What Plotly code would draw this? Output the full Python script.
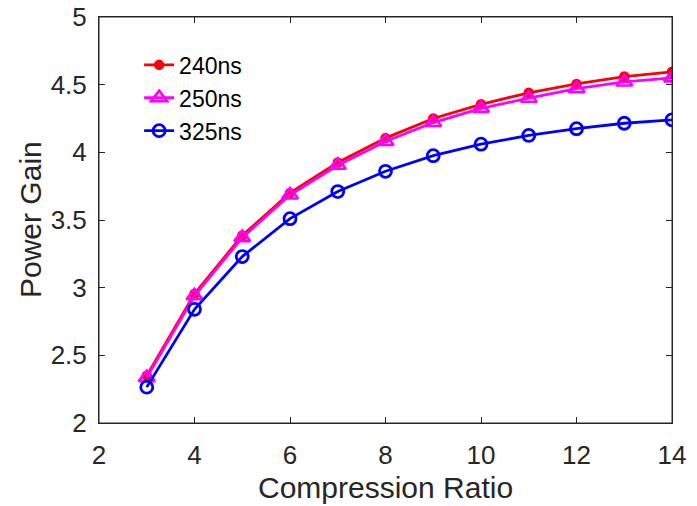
import plotly.graph_objects as go

compression_ratio = [3, 4, 5, 6, 7, 8, 9, 10, 11, 12, 13, 14]
gain_240ns = [2.35, 2.955, 3.385, 3.70, 3.925, 4.105, 4.25, 4.355, 4.44, 4.505, 4.56, 4.595]
gain_250ns = [2.335, 2.94, 3.37, 3.685, 3.905, 4.08, 4.22, 4.325, 4.40, 4.47, 4.52, 4.55]
gain_325ns = [2.265, 2.84, 3.23, 3.51, 3.71, 3.86, 3.975, 4.06, 4.125, 4.175, 4.215, 4.24]
x_ticks = [2, 4, 6, 8, 10, 12, 14]
y_ticks = [2, 2.5, 3, 3.5, 4, 4.5, 5]
y_tick_labels = ["2", "2.5", "3", "3.5", "4", "4.5", "5"]
x_title = "Compression Ratio"
y_title = "Power Gain"

FONT = "Liberation Sans, Arial, Helvetica, sans-serif"
AX = "#262626"

fig = go.Figure()
fig.add_trace(go.Scatter(
    x=compression_ratio, y=gain_240ns, name="240ns", mode="lines+markers",
    line=dict(color="#ff0000", width=2.8),
    marker=dict(symbol="circle", size=9, color="#ff0000",
                line=dict(color="#ff0000", width=1.5))))
fig.add_trace(go.Scatter(
    x=compression_ratio, y=gain_250ns, name="250ns", mode="lines+markers",
    line=dict(color="#ff00ff", width=2.8),
    marker=dict(symbol="triangle-up-open", size=14, color="#ff00ff",
                line=dict(color="#ff00ff", width=2.6))))
fig.add_trace(go.Scatter(
    x=compression_ratio, y=gain_325ns, name="325ns", mode="lines+markers",
    line=dict(color="#0000ff", width=2.8),
    marker=dict(symbol="circle-open", size=12, color="#0000ff",
                line=dict(color="#0000ff", width=2.8))))

axis_common = dict(
    showgrid=False, zeroline=False, showline=True, linecolor=AX,
    linewidth=1, mirror="ticks", ticks="inside", ticklen=6, tickwidth=1,
    tickcolor=AX, tickfont=dict(size=26, color=AX, family=FONT),
    automargin=False, ticklabeloverflow="allow",
)
fig.update_xaxes(range=[2, 14], tickvals=x_ticks, ticklabelstandoff=9,
                 **axis_common)
fig.update_yaxes(range=[2, 5], tickvals=y_ticks, ticktext=y_tick_labels,
                 ticklabelstandoff=6, **axis_common)

# plot frame
fig.add_shape(type="rect", xref="paper", yref="paper", x0=0, y0=0, x1=1, y1=1,
              line=dict(color=AX, width=1), layer="above")

fig.add_annotation(text=x_title, xref="paper", yref="paper", x=0.5, y=0,
                   yshift=-46, xanchor="center", yanchor="top",
                   showarrow=False, font=dict(size=30, color=AX, family=FONT))
fig.add_annotation(text=y_title, xref="paper", yref="paper", x=0, y=0.5,
                   xshift=-69, xanchor="center", yanchor="middle", textangle=-90,
                   showarrow=False, font=dict(size=30, color=AX, family=FONT))

# page body has an 8px margin, so the figure is shifted by (8, 8)
fig.update_layout(
    width=689, height=498,
    margin=dict(l=91, r=25, t=9, b=83),
    paper_bgcolor="white", plot_bgcolor="white",
    font=dict(family=FONT, color="#000000"),
    legend=dict(x=0.07, y=0.935, xanchor="left", yanchor="top",
                font=dict(size=23, color="#000000", family=FONT),
                bgcolor="rgba(255,255,255,0)", borderwidth=0,
                itemwidth=30),
    showlegend=True,
)

fig.write_html("out.html")
